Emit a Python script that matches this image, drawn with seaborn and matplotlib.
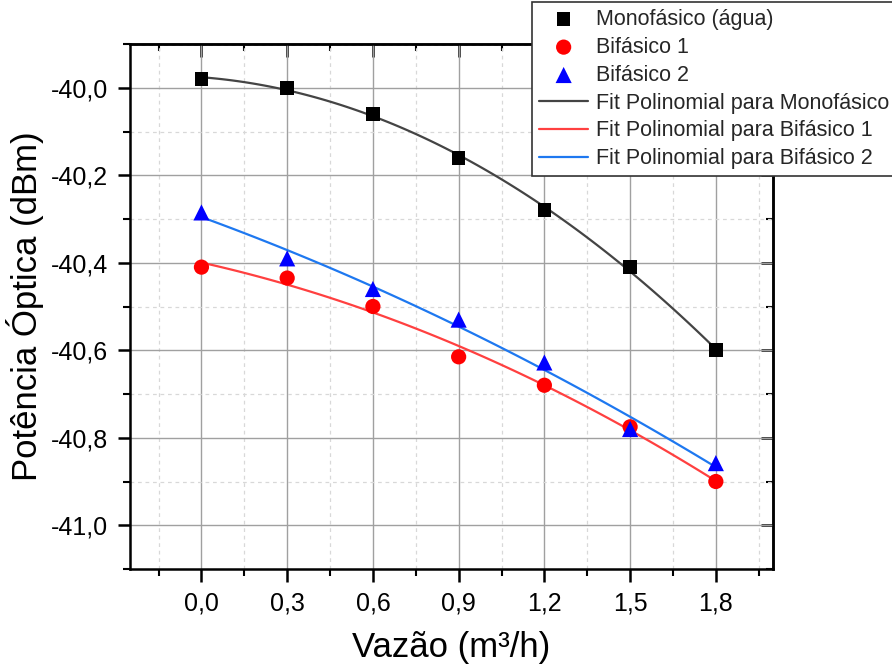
import matplotlib
matplotlib.use("Agg")
import matplotlib.pyplot as plt
import seaborn as sns
import numpy as np
import pandas as pd
from matplotlib.ticker import FixedLocator, MultipleLocator

sns.set_theme(style="white")
plt.rcParams['font.family'] = ['Liberation Sans', 'DejaVu Sans']

vazao = [0.0, 0.3, 0.6, 0.9, 1.2, 1.5, 1.8]
monofasico = [-39.98, -40.00, -40.06, -40.16, -40.28, -40.41, -40.60]
bifasico1 = [-40.41, -40.435, -40.50, -40.615, -40.68, -40.775, -40.90]
bifasico2 = [-40.285, -40.39, -40.46, -40.53, -40.628, -40.78, -40.858]

x_ticks = [0.0, 0.3, 0.6, 0.9, 1.2, 1.5, 1.8]
x_ticklabels = ["0,0", "0,3", "0,6", "0,9", "1,2", "1,5", "1,8"]
y_ticks = [-41.0, -40.8, -40.6, -40.4, -40.2, -40.0]
y_ticklabels = ["-41,0", "-40,8", "-40,6", "-40,4", "-40,2", "-40,0"]

labels_pts = ["Monofásico (água)", "Bifásico 1", "Bifásico 2"]
labels_fit = ["Fit Polinomial para Monofásico", "Fit Polinomial para Bifásico 1",
              "Fit Polinomial para Bifásico 2"]

fig = plt.figure(figsize=(8.92, 6.66), dpi=100)
ax = fig.add_axes([130/892, 1-569/666, (773-130)/892, (569-44)/666])

series = [monofasico, bifasico1, bifasico2]
mk_colors = ["black", "#FF0000", "#0000FF"]
markers = ["s", "o", "^"]
mk_sizes = [95, 120, 135]
fit_colors = ["#444444", "#FF4040", "#1E78F0"]

for i, ys in enumerate(series):
    d = pd.DataFrame({"x": vazao, "y": ys})
    sns.regplot(data=d, x="x", y="y", order=2, ci=None, scatter=False, ax=ax,
                label=labels_fit[i],
                line_kws=dict(color=fit_colors[i], lw=1.6, zorder=3))
for i, ys in enumerate(series):
    d = pd.DataFrame({"x": vazao, "y": ys})
    sns.scatterplot(data=d, x="x", y="y", marker=markers[i], color=mk_colors[i],
                    s=mk_sizes[i], edgecolor="none", ax=ax,
                    label=labels_pts[i], zorder=4)

ax.set_xlim(-0.25, 2.0)
ax.set_ylim(-41.1, -39.9)
ax.xaxis.set_major_locator(FixedLocator(x_ticks))
ax.set_xticklabels(x_ticklabels)
ax.yaxis.set_major_locator(FixedLocator(y_ticks))
ax.set_yticklabels(y_ticklabels)
ax.xaxis.set_minor_locator(MultipleLocator(0.15))
ax.yaxis.set_minor_locator(MultipleLocator(0.1))

ax.grid(True, which="major", color="#a0a0a0", lw=1.0, ls="-")
ax.grid(True, which="minor", color="#d8d8d8", lw=0.9, ls=(0, (3, 3)))
ax.set_axisbelow(True)

for s in ax.spines.values():
    s.set_color("black")
    s.set_linewidth(1.8)

ax.tick_params(axis="both", which="major", direction="out", length=9, width=1.8,
               color="black", labelsize=18, labelcolor="black", pad=7,
               bottom=True, left=True)
ax.tick_params(axis="both", which="minor", direction="out", length=5, width=1.5,
               color="black", bottom=True, left=True)
# mirrored ticks inward on top/right
ax2 = ax.secondary_xaxis("top")
ax2.xaxis.set_major_locator(FixedLocator(x_ticks))
ax2.xaxis.set_minor_locator(MultipleLocator(0.15))
ax2.tick_params(which="major", direction="in", length=9, width=1.8, color="black",
                labeltop=False)
ax2.tick_params(which="minor", direction="in", length=5, width=1.5, color="black")
ax2.spines["top"].set_linewidth(1.8)
ax2.spines["top"].set_color("black")
ay2 = ax.secondary_yaxis("right")
ay2.yaxis.set_major_locator(FixedLocator(y_ticks))
ay2.yaxis.set_minor_locator(MultipleLocator(0.1))
ay2.tick_params(which="major", direction="in", length=9, width=1.8, color="black",
                labelright=False)
ay2.tick_params(which="minor", direction="in", length=5, width=1.5, color="black")
ay2.spines["right"].set_linewidth(1.8)
ay2.spines["right"].set_color("black")

ax.set_xlabel("Vazão (m³/h)", fontsize=25, color="black", labelpad=11)
ax.set_ylabel("Potência Óptica (dBm)", fontsize=25, color="black", labelpad=5)

h, l = ax.get_legend_handles_labels()
order = [l.index(n) for n in labels_pts + labels_fit]
if ax.get_legend():
    ax.get_legend().remove()
leg = fig.legend([h[k] for k in order], [l[k] for k in order], loc="upper left",
                 bbox_to_anchor=(532/892, 1-2/666), fontsize=15.5, frameon=True,
                 fancybox=False, framealpha=1, edgecolor="#333333",
                 borderpad=0.32, labelspacing=0.32, handlelength=2.3,
                 handletextpad=0.33, borderaxespad=0)
leg.get_frame().set_linewidth(1.2)

fig.savefig("out.png", dpi=100)
